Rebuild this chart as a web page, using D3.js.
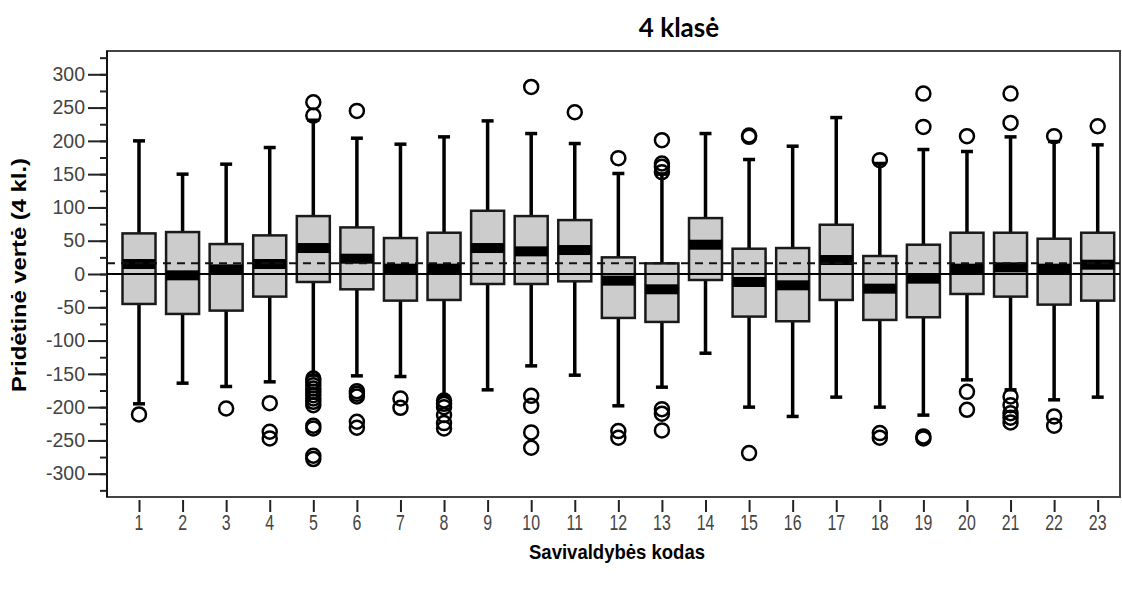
<!DOCTYPE html>
<html>
<head>
<meta charset="utf-8">
<script src="https://cdn.jsdelivr.net/npm/d3@7"></script>
<style>
  body { margin: 0; background: #fff; }
  svg { display: block; }
</style>
</head>
<body>
<div id="chart"></div>
<script>
// box plot data
var codes = d3.range(1, 24);
var whiskerHigh = [200, 150, 165, 190, 231, 204, 195, 206, 230, 211, 196, 151, 150, 211, 172, 192, 235, 166, 187, 184, 206, 199, 194];
var q3 = [61, 63, 45, 58, 87, 70, 54, 62, 95, 87, 81, 25, 16, 84, 38, 39, 74, 27, 44, 62, 62, 53, 62];
var medians = [15, -2, 7, 15, 39, 23, 8, 8, 39, 34, 36, -10, -23, 44, -12, -17, 21, -22, -7, 8, 10, 8, 14];
var q1 = [-45, -60, -55, -34, -12, -23, -40, -39, -15, -15, -11, -66, -72, -9, -64, -71, -39, -69, -65, -30, -34, -46, -40];
var whiskerLow = [-195, -164, -169, -162, -152, -153, -154, -184, -174, -138, -152, -198, -170, -119, -200, -214, -185, -200, -212, -159, -174, -189, -185];
var outliers = [
  [-211],
  [],
  [-202],
  [-194, -237, -247],
  [258, 238, -157, -162, -167, -172, -177, -182, -187, -192, -197, -228, -232, -273, -278],
  [245, -176, -180, -184, -222, -231],
  [-187, -201],
  [-190, -195, -200, -212, -224, -232],
  [],
  [281, -183, -198, -238, -261],
  [243],
  [174, -236, -246],
  [201, 166, 161, 153, -203, -210, -235],
  [],
  [206, 208, -269],
  [],
  [],
  [171, -239, -246],
  [271, 221, -244, -247],
  [207, -177, -204],
  [271, 227, -184, -197, -209, -216, -223],
  [207, -214, -228],
  [222]
];
var meanLine = 16;
var yTicks = d3.range(-300, 301, 50);

var W = 1122, H = 589;
var pLeft = 107, pRight = 1120, pTop = 51, pBottom = 497;

var svg = d3.select("#chart").append("svg")
    .attr("width", W)
    .attr("height", H);

var x = d3.scalePoint()
    .domain(codes)
    .range([139, 1097.7]);

var y = d3.scaleLinear()
    .domain([-335, 335])
    .range([pBottom, pTop]);

var boxW = 33, capW = 12;

var data = codes.map(function(c, i) {
  return {code: c, hi: whiskerHigh[i], q3: q3[i], med: medians[i], q1: q1[i], lo: whiskerLow[i], out: outliers[i]};
});

// frame
svg.append("rect")
    .attr("x", pLeft).attr("y", pTop)
    .attr("width", pRight - pLeft).attr("height", pBottom - pTop)
    .attr("fill", "none")
    .attr("stroke", "#444")
    .attr("stroke-width", 2);
svg.append("line")
    .attr("x1", pLeft).attr("x2", pLeft)
    .attr("y1", pTop).attr("y2", pBottom)
    .attr("stroke", "#111").attr("stroke-width", 2);

// y axis, minor then major ticks
svg.append("g")
    .attr("transform", "translate(" + pLeft + ",0)")
    .call(d3.axisLeft(y).tickValues(d3.range(-325, 326, 25)).tickSize(7).tickFormat(""))
    .call(function(g) { g.select(".domain").remove(); })
    .selectAll("line").attr("stroke", "#222").attr("stroke-width", 2);

var yAxis = svg.append("g")
    .attr("transform", "translate(" + pLeft + ",0)")
    .call(d3.axisLeft(y).tickValues(yTicks).tickSize(19).tickPadding(3)
      .tickFormat(function(d) { return String(d); }))
    .call(function(g) { g.select(".domain").remove(); });
yAxis.selectAll("line").attr("stroke", "#222").attr("stroke-width", 2);
yAxis.selectAll("text")
    .attr("fill", "#444")
    .style("font-family", "'Liberation Sans', Arial, sans-serif")
    .style("font-size", "19.5px");

// x axis
var xAxis = svg.append("g")
    .attr("transform", "translate(0," + (pBottom + 3) + ")")
    .call(d3.axisBottom(x).tickSize(12).tickFormat(""))
    .call(function(g) { g.select(".domain").remove(); });
xAxis.selectAll("line").attr("stroke", "#222").attr("stroke-width", 2);

svg.append("g").selectAll("text")
    .data(codes)
    .enter()
    .append("text")
      .attr("transform", function(d) { return "translate(" + x(d) + "," + 530 + ") scale(0.74,1)"; })
      .attr("text-anchor", "middle")
      .attr("fill", "#444")
      .style("font-family", "'Liberation Sans', Arial, sans-serif")
      .style("font-size", "21.5px")
      .text(function(d) { return d; });

var boxes = svg.append("g").selectAll("g")
    .data(data)
    .enter()
    .append("g");

// whiskers
boxes.append("line")
    .attr("x1", function(d) { return x(d.code); })
    .attr("x2", function(d) { return x(d.code); })
    .attr("y1", function(d) { return y(d.hi); })
    .attr("y2", function(d) { return y(d.lo); })
    .attr("stroke", "#000").attr("stroke-width", 3.5);
boxes.selectAll(".cap")
    .data(function(d) { return [{c: d.code, v: d.hi}, {c: d.code, v: d.lo}]; })
    .enter()
    .append("line")
      .attr("class", "cap")
      .attr("x1", function(d) { return x(d.c) - capW / 2; })
      .attr("x2", function(d) { return x(d.c) + capW / 2; })
      .attr("y1", function(d) { return y(d.v); })
      .attr("y2", function(d) { return y(d.v); })
      .attr("stroke", "#000").attr("stroke-width", 3.5);

// boxes
boxes.append("rect")
    .attr("x", function(d) { return x(d.code) - boxW / 2; })
    .attr("y", function(d) { return y(d.q3); })
    .attr("width", boxW)
    .attr("height", function(d) { return y(d.q1) - y(d.q3); })
    .attr("fill", "#cccccc")
    .attr("stroke", "#1a1a1a")
    .attr("stroke-width", 2.5);

// median band
boxes.append("rect")
    .attr("x", function(d) { return x(d.code) - boxW / 2; })
    .attr("y", function(d) { return y(d.med) - 5; })
    .attr("width", boxW)
    .attr("height", 10)
    .attr("fill", "#000");

// reference lines
svg.append("line")
    .attr("x1", pLeft).attr("x2", pRight)
    .attr("y1", y(0)).attr("y2", y(0))
    .attr("stroke", "#000").attr("stroke-width", 2);
svg.append("line")
    .attr("x1", pLeft).attr("x2", pRight)
    .attr("y1", y(meanLine)).attr("y2", y(meanLine))
    .attr("stroke", "#111").attr("stroke-width", 2)
    .attr("stroke-dasharray", "8,6");

// outliers
boxes.selectAll("circle")
    .data(function(d) { return d.out.map(function(v) { return {c: d.code, v: v}; }); })
    .enter()
    .append("circle")
      .attr("cx", function(d) { return x(d.c); })
      .attr("cy", function(d) { return y(d.v); })
      .attr("r", 7)
      .attr("fill", "none")
      .attr("stroke", "#000")
      .attr("stroke-width", 2.5);

// titles
svg.append("text")
    .attr("x", 679).attr("y", 37)
    .attr("text-anchor", "middle")
    .style("font-family", "Lato, 'Open Sans', sans-serif")
    .style("font-weight", "bold")
    .style("font-size", "26px")
    .text("4 klasė");

svg.append("text")
    .attr("transform", "translate(26," + 275 + ") rotate(-90)")
    .attr("text-anchor", "middle")
    .attr("textLength", 234)
    .attr("lengthAdjust", "spacingAndGlyphs")
    .style("font-family", "'Liberation Sans', Arial, sans-serif")
    .style("font-weight", "bold")
    .style("font-size", "20px")
    .text("Pridėtinė vertė (4 kl.)");

svg.append("text")
    .attr("x", 617).attr("y", 559)
    .attr("text-anchor", "middle")
    .attr("textLength", 176)
    .attr("lengthAdjust", "spacingAndGlyphs")
    .style("font-family", "'Liberation Sans', Arial, sans-serif")
    .style("font-weight", "bold")
    .style("font-size", "21px")
    .text("Savivaldybės kodas");
</script>
</body>
</html>
